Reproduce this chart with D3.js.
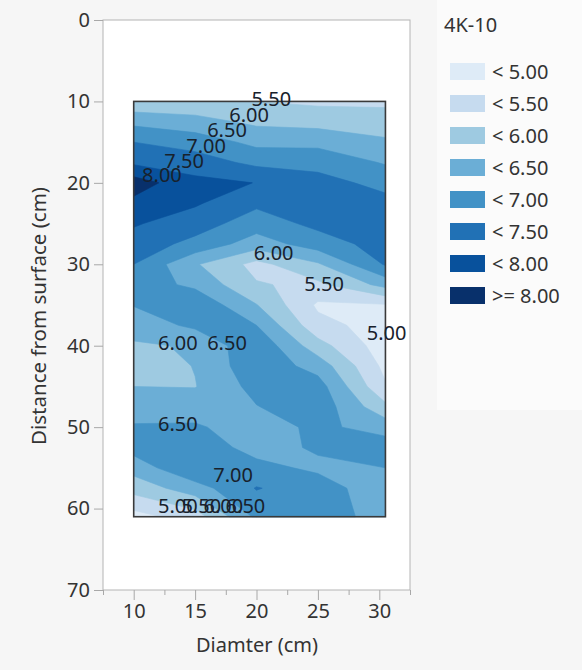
<!DOCTYPE html>
<html>
<head>
<meta charset="utf-8">
<script src="https://cdn.jsdelivr.net/npm/d3@7"></script>
<style>
  html, body { margin: 0; padding: 0; background: #f6f6f6; }
  svg { display: block; font-family: "Noto Sans", "Open Sans", sans-serif; }
</style>
</head>
<body>
<svg id="chart" width="582" height="670"></svg>
<script>
// Grid of measured values: columns are diameters (cm), rows are depths (cm)
const diameters = [10, 15, 20, 25, 30.5];
const depths = [10, 12.5, 15, 17.5, 20, 22.5, 25, 27.5, 30, 32.5, 35, 37.5, 40, 42.5, 45, 47.5, 50, 52.5, 55, 57.5, 61];
const values = [
  [5.60, 5.65, 5.50, 5.40, 5.40],
  [6.37, 6.17, 5.90, 5.83, 5.73],
  [7.00, 6.79, 6.36, 6.34, 6.08],
  [7.41, 7.24, 6.88, 6.88, 6.45],
  [8.25, 7.64, 7.49, 7.13, 6.89],
  [7.87, 7.56, 7.10, 7.29, 7.11],
  [7.55, 7.23, 6.74, 7.13, 7.25],
  [7.28, 6.85, 6.25, 6.75, 7.21],
  [7.00, 6.05, 5.34, 5.94, 7.05],
  [6.76, 6.39, 5.54, 5.39, 6.17],
  [6.52, 6.90, 6.02, 4.92, 4.96],
  [6.23, 6.60, 6.50, 5.15, 4.80],
  [5.93, 6.05, 6.90, 5.70, 4.72],
  [5.70, 6.02, 6.86, 6.30, 4.86],
  [6.00, 5.98, 6.67, 6.72, 5.05],
  [6.26, 6.27, 6.48, 6.82, 5.62],
  [6.55, 6.56, 6.26, 6.61, 6.30],
  [6.70, 6.74, 6.35, 6.55, 6.75],
  [6.20, 6.98, 6.62, 6.42, 6.50],
  [5.70, 6.27, 7.03, 6.71, 6.22],
  [4.80, 5.25, 6.60, 6.75, 6.30]
];

// Contour levels and their fill colours (lowest band first)
const levels = [5.0, 5.5, 6.0, 6.5, 7.0, 7.5, 8.0];
const bandColors = ["#deebf7", "#c6dbef", "#9ecae1", "#6baed6", "#4292c6", "#2171b5", "#08519c", "#08306b"];
const legendLabels = ["< 5.00", "< 5.50", "< 6.00", "< 6.50", "< 7.00", "< 7.50", "< 8.00", ">= 8.00"];
const legendTitle = "4K-10";

// Contour line labels: text, diameter, depth
const contourLabels = [
  ["8.00", 12.3, 19.0], ["7.50", 14.1, 17.2], ["7.00", 15.9, 15.4],
  ["6.50", 17.6, 13.5], ["6.00", 19.4, 11.6], ["5.50", 21.2, 9.6],
  ["6.00", 21.4, 28.6], ["5.50", 25.5, 32.4], ["5.00", 30.6, 38.4],
  ["6.00", 13.6, 39.6], ["6.50", 17.6, 39.6], ["6.50", 13.6, 49.5],
  ["7.00", 18.1, 55.8],
  ["5.00", 13.6, 59.6], ["5.50", 15.5, 59.6], ["6.00", 17.3, 59.6], ["6.50", 19.1, 59.6]
];

const xTicks = [10, 15, 20, 25, 30];
const xMinorTicks = [7.5, 12.5, 17.5, 22.5, 27.5, 32.5];
const yTicks = [0, 10, 20, 30, 40, 50, 60, 70];

const svg = d3.select("#chart");
const x = d3.scaleLinear().domain([7.5, 32.5]).range([103, 410]);
const y = d3.scaleLinear().domain([0, 70]).range([20, 590]);
const fontSize = 20;

// legend panel background
svg.append("rect").attr("x", 437).attr("y", 0).attr("width", 145).attr("height", 410).attr("fill", "#fbfbfb");

// plot frame
svg.append("rect").attr("x", 103).attr("y", 20).attr("width", 307).attr("height", 570)
  .attr("fill", "#ffffff").attr("stroke", "#b4b4b4").attr("stroke-width", 1);

// contour bands
const nx = diameters.length, ny = depths.length;
const flat = values.flat();
const contours = d3.contours().size([nx, ny]).thresholds(levels)(flat);
const ix = d3.scaleLinear().domain(d3.range(nx)).range(diameters);
const iy = d3.scaleLinear().domain(d3.range(ny)).range(depths);
const cx = v => Math.max(0, Math.min(nx - 1, v - 0.5));
const cy = v => Math.max(0, Math.min(ny - 1, v - 0.5));
const proj = d3.geoTransform({
  point(px, py) { this.stream.point(x(ix(cx(px))), y(iy(cy(py)))); }
});
const path = d3.geoPath(proj);

const g = svg.append("g");
g.append("rect")
  .attr("x", x(diameters[0])).attr("y", y(depths[0]))
  .attr("width", x(diameters[nx - 1]) - x(diameters[0]))
  .attr("height", y(depths[ny - 1]) - y(depths[0]))
  .attr("fill", bandColors[0]);
g.selectAll("path.band").data(contours).join("path")
  .attr("class", "band")
  .attr("d", path)
  .attr("fill", (d, i) => bandColors[i + 1])
  .attr("stroke", (d, i) => bandColors[i + 1])
  .attr("stroke-width", 0.6);

// box around contour area
svg.append("rect")
  .attr("x", x(diameters[0])).attr("y", y(depths[0]))
  .attr("width", x(diameters[nx - 1]) - x(diameters[0]))
  .attr("height", y(depths[ny - 1]) - y(depths[0]))
  .attr("fill", "none").attr("stroke", "#3a3a3a").attr("stroke-width", 1.6);

// contour labels
svg.append("g").selectAll("text").data(contourLabels).join("text")
  .attr("x", d => x(d[1])).attr("y", d => y(d[2]))
  .attr("text-anchor", "middle").attr("dominant-baseline", "central")
  .attr("font-size", fontSize).attr("fill", "#18212c")
  .text(d => d[0]);

// axes
const yAxis = svg.append("g").attr("transform", "translate(103,0)")
  .call(d3.axisLeft(y).tickValues(yTicks).tickSize(9).tickPadding(4));
const xAxis = svg.append("g").attr("transform", "translate(0,590)")
  .call(d3.axisBottom(x).tickValues(xTicks).tickSize(10).tickPadding(4));
const xMinor = svg.append("g").attr("transform", "translate(0,590)")
  .call(d3.axisBottom(x).tickValues(xMinorTicks).tickSize(5).tickFormat(""));
[yAxis, xAxis, xMinor].forEach(a => {
  a.select(".domain").remove();
  a.selectAll("line").attr("stroke", "#a8a8a8");
  a.selectAll("text").attr("font-size", fontSize).attr("fill", "#333")
    .attr("font-family", "\"Noto Sans\", sans-serif");
});

// axis titles
svg.append("text").attr("x", 257).attr("y", 652).attr("text-anchor", "middle")
  .attr("font-size", fontSize).attr("fill", "#333").text("Diamter (cm)");
svg.append("text").attr("transform", "translate(46,316) rotate(-90)").attr("text-anchor", "middle")
  .attr("font-size", fontSize + 0.5).attr("fill", "#333").text("Distance from surface (cm)");

// legend
svg.append("text").attr("x", 444).attr("y", 32).attr("font-size", fontSize).attr("fill", "#333").text(legendTitle);
const leg = svg.append("g").selectAll("g").data(legendLabels).join("g")
  .attr("transform", (d, i) => `translate(450,${63 + i * 32})`);
leg.append("rect").attr("width", 35).attr("height", 17).attr("fill", (d, i) => bandColors[i]);
leg.append("text").attr("x", 42).attr("y", 8.5).attr("dominant-baseline", "central")
  .attr("font-size", fontSize).attr("fill", "#333").text(d => d);
</script>
</body>
</html>
